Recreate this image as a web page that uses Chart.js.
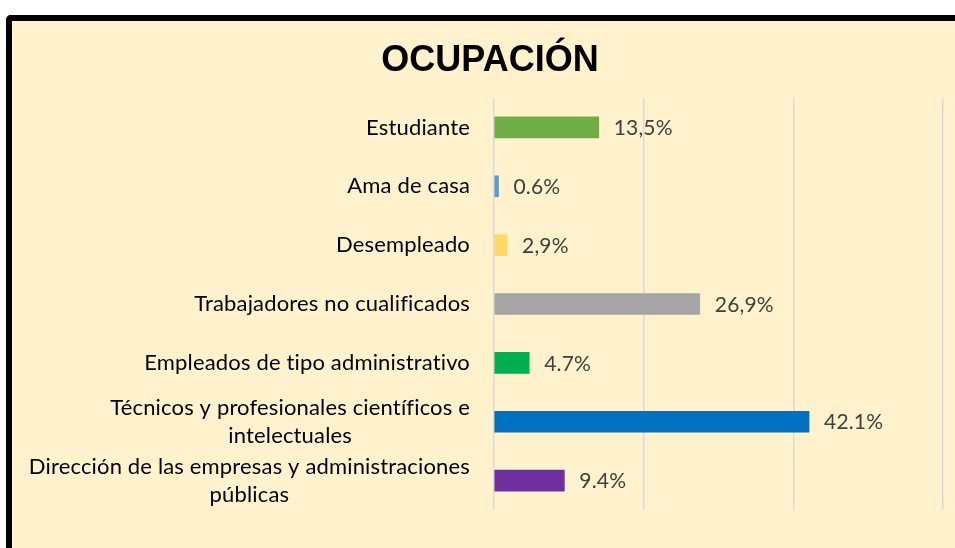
<!DOCTYPE html>
<html>
<head>
<meta charset="utf-8">
<script src="https://cdn.jsdelivr.net/npm/chart.js@4.4.1/dist/chart.umd.min.js"></script>
<style>
  body { margin: 0; background: #fff; }
  #box {
    position: absolute; left: 6px; top: 15px;
    width: 949px; height: 533px; box-sizing: border-box;
    border-left: 6px solid #000; border-top: 6px solid #000;
    border-top-left-radius: 5px;
    background: #FFF2CC; overflow: hidden;
  }
  #graph { position: absolute; left: 0; top: 0; }
</style>
</head>
<body>
<div id="box"><canvas id="graph" width="943" height="527"></canvas></div>
<script>
const titulo = 'OCUPACIÓN';

const categorias = [
    ['Estudiante'],
    ['Ama de casa'],
    ['Desempleado'],
    ['Trabajadores no cualificados'],
    ['Empleados de tipo administrativo'],
    ['Técnicos y profesionales científicos e', 'intelectuales'],
    ['Dirección de las empresas y administraciones', 'públicas']
];

// bar lengths as drawn
const valores = [14.0, 0.6, 1.75, 27.5, 4.7, 42.1, 9.4];

// labels as printed next to each bar
const etiquetas = ['13,5%', '0.6%', '2,9%', '26,9%', '4.7%', '42.1%', '9.4%'];

const colores = ['#70AD47', '#5B9BD5', '#FFD966', '#A5A5A5', '#00B050', '#0070C0', '#7030A0'];

const ticksX = [0, 20, 40, 60];

const textos = {
    id: 'textos',
    afterDatasetsDraw(chart) {
        const ctx = chart.ctx;
        const x = chart.scales.x;
        const y = chart.scales.y;
        ctx.save();

        // title
        ctx.fillStyle = '#000';
        ctx.font = 'bold 36px "Liberation Sans", Arial, sans-serif';
        ctx.textAlign = 'center';
        ctx.textBaseline = 'middle';
        ctx.fillText(titulo, 478, 40);

        // category labels: block right aligned, lines centred
        ctx.font = '22px Lato, sans-serif';
        ctx.letterSpacing = '0.16px'; // also keeps Lato from joining fi / ti
        ctx.fillStyle = '#000';
        categorias.forEach((lineas, i) => {
            const cy = y.getPixelForValue(i);
            const w = Math.max(...lineas.map(l => ctx.measureText(l).width));
            const cx = x.left - 24 - w / 2;
            lineas.forEach((l, j) => {
                ctx.fillText(l, cx, cy + (j - (lineas.length - 1) / 2) * 28);
            });
        });

        // value labels
        ctx.font = '21px Lato, sans-serif';
        ctx.fillStyle = '#404040';
        ctx.textAlign = 'left';
        const meta = chart.getDatasetMeta(0);
        meta.data.forEach((bar, i) => {
            ctx.fillText(etiquetas[i], bar.x + 15, bar.y + 1);
        });
        ctx.restore();
    }
};

const data = {
    labels: categorias,
    datasets: [{
        data: valores,
        backgroundColor: colores,
        barThickness: 21
    }]
};

const config = {
    type: 'bar',
    data: data,
    options: {
        indexAxis: 'y',
        responsive: false,
        animation: false,
        devicePixelRatio: 1,
        layout: {
            padding: { left: 482, right: 12, top: 77, bottom: 38 }
        },
        plugins: {
            legend: { display: false },
            tooltip: { enabled: false }
        },
        scales: {
            x: {
                min: ticksX[0],
                max: ticksX[ticksX.length - 1],
                ticks: { display: false, stepSize: 20 },
                grid: { color: '#D9D9D9', lineWidth: 1.5, drawTicks: false },
                border: { display: false }
            },
            y: {
                ticks: { display: false },
                grid: { display: false, drawTicks: false },
                border: { display: false }
            }
        }
    },
    plugins: [textos]
};

const graph = document.querySelector('#graph');
new Chart(graph, config);
</script>
</body>
</html>
